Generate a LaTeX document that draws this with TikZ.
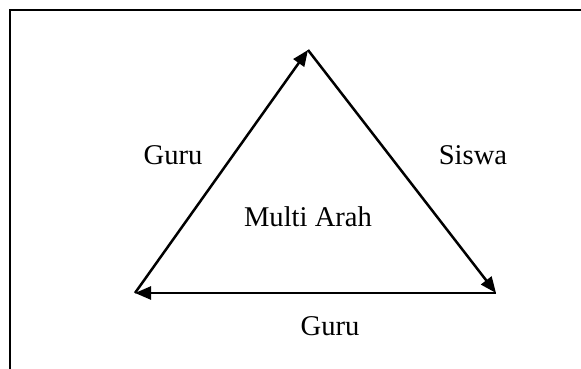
\documentclass[tikz,border=0pt]{standalone}
\usepackage{fontspec}
\setmainfont{Liberation Serif}
\usetikzlibrary{arrows.meta}
\begin{document}
\begin{tikzpicture}[x=1pt,y=-1pt,
  frameline/.style={line width=2.8pt},
  edge/.style={line width=2.5pt,-{Triangle[length=16pt,width=13pt]}},
  lbl/.style={font=\fontsize{28.6pt}{32pt}\selectfont,anchor=base,inner sep=0pt}]
\useasboundingbox (0,0) rectangle (581,369);
\coordinate (tl) at (10,10);
\coordinate (tr) at (581,10);
\coordinate (bl) at (10,369);
\draw[frameline] (tr) -- (tl) -- (bl);
\coordinate (apex) at (308,50);
\coordinate (left) at (135,293);
\coordinate (right) at (496,293);
\draw[edge] (left) -- (apex);
\draw[edge] (apex) -- (right);
\draw[edge] (right) -- (left);
\node[lbl] (g1) at (173,164) {Guru};
\node[lbl] (s) at (473,164) {Siswa};
\node[lbl] (m) at (308,226) {Multi Arah};
\node[lbl] (g2) at (330,335) {Guru};
\end{tikzpicture}
\end{document}
